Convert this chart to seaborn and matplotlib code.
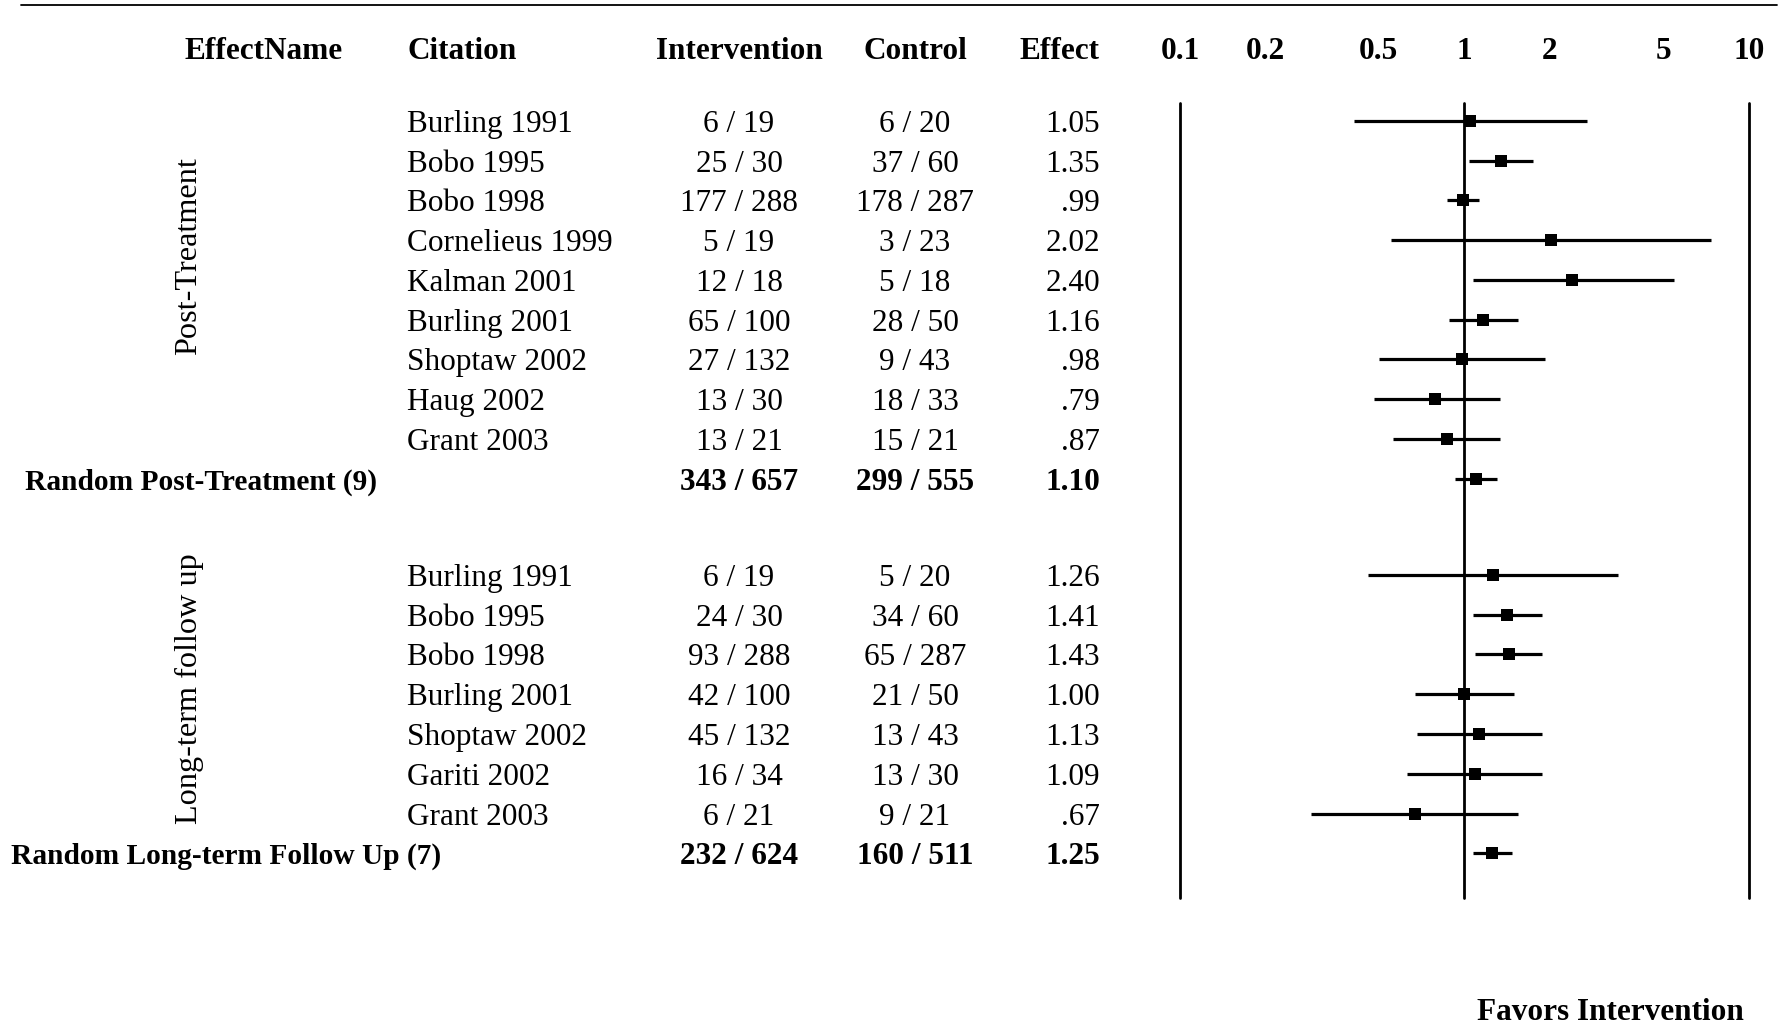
import numpy as np
import pandas as pd
import matplotlib
matplotlib.use("Agg")
import matplotlib.pyplot as plt
import matplotlib.transforms as mtransforms
from matplotlib.lines import Line2D
import seaborn as sns

# ---- Post-treatment studies ----
post_citations = ["Burling 1991", "Bobo 1995", "Bobo 1998", "Cornelieus 1999", "Kalman 2001",
                  "Burling 2001", "Shoptaw 2002", "Haug 2002", "Grant 2003"]
post_intervention = ["6 / 19", "25 / 30", "177 / 288", "5 / 19", "12 / 18",
                     "65 / 100", "27 / 132", "13 / 30", "13 / 21"]
post_control = ["6 / 20", "37 / 60", "178 / 287", "3 / 23", "5 / 18",
                "28 / 50", "9 / 43", "18 / 33", "15 / 21"]
post_effect = [1.05, 1.35, 0.99, 2.02, 2.40, 1.16, 0.98, 0.79, 0.87]
post_lower = [0.41, 1.04, 0.87, 0.55, 1.07, 0.88, 0.50, 0.48, 0.56]
post_upper = [2.71, 1.75, 1.13, 7.39, 5.44, 1.55, 1.92, 1.34, 1.34]

post_sum_label = "Random Post-Treatment (9)"
post_sum_intervention = "343 / 657"
post_sum_control = "299 / 555"
post_sum_effect = 1.10
post_sum_lower = 0.93
post_sum_upper = 1.30

# ---- Long-term follow up studies ----
long_citations = ["Burling 1991", "Bobo 1995", "Bobo 1998", "Burling 2001",
                  "Shoptaw 2002", "Gariti 2002", "Grant 2003"]
long_intervention = ["6 / 19", "24 / 30", "93 / 288", "42 / 100", "45 / 132", "16 / 34", "6 / 21"]
long_control = ["5 / 20", "34 / 60", "65 / 287", "21 / 50", "13 / 43", "13 / 30", "9 / 21"]
long_effect = [1.26, 1.41, 1.43, 1.00, 1.13, 1.09, 0.67]
long_lower = [0.46, 1.07, 1.09, 0.67, 0.68, 0.63, 0.29]
long_upper = [3.47, 1.88, 1.88, 1.49, 1.88, 1.88, 1.54]

long_sum_label = "Random Long-term Follow Up (7)"
long_sum_intervention = "232 / 624"
long_sum_control = "160 / 511"
long_sum_effect = 1.25
long_sum_lower = 1.07
long_sum_upper = 1.47

group_names = ["Post-Treatment", "Long-term follow up"]
header_names = ["EffectName", "Citation", "Intervention", "Control", "Effect"]
tick_values = [0.1, 0.2, 0.5, 1, 2, 5, 10]
tick_labels = ["0.1", "0.2", "0.5", "1", "2", "5", "10"]
footer_label = "Favors Intervention"


def fmt_effect(v):
    s = f"{v:.2f}"
    return s[1:] if s.startswith("0") else s


# ---- assemble one table, row positions in units of text lines ----
GROUP_GAP = 2.42
rows = []
y = 0.0
groups = [
    (post_citations, post_intervention, post_control, post_effect, post_lower, post_upper,
     post_sum_label, post_sum_intervention, post_sum_control, post_sum_effect,
     post_sum_lower, post_sum_upper),
    (long_citations, long_intervention, long_control, long_effect, long_lower, long_upper,
     long_sum_label, long_sum_intervention, long_sum_control, long_sum_effect,
     long_sum_lower, long_sum_upper),
]
group_ranges = []
for gi, (cit, itv, ctl, eff, lo, hi, sl, si, sc, se, slo, shi) in enumerate(groups):
    start = y
    for c, a, b, e, l, h in zip(cit, itv, ctl, eff, lo, hi):
        rows.append(dict(group=gi, citation=c, intervention=a, control=b,
                         effect=e, lower=l, upper=h, summary=False, y=y))
        y += 1
    group_ranges.append((start, y - 1))
    rows.append(dict(group=gi, citation=sl, intervention=si, control=sc,
                     effect=se, lower=slo, upper=shi, summary=True, y=y))
    y += GROUP_GAP
df = pd.DataFrame(rows)

# ---- figure ----
sns.set_theme(style="white")
plt.rcParams["font.family"] = ["Liberation Serif", "DejaVu Serif"]
plt.rcParams["text.color"] = "black"
FS = 22.5
FS_SUMMARY = 21.2
FS_GROUP = 23.2

W, H = 1792, 1033
fig = plt.figure(figsize=(W / 100, H / 100), dpi=100)
fig.patch.set_facecolor("white")

ax_left, ax_right = 1180 / W, 1748.7 / W
ax_top, ax_bottom = 1 - 103 / H, 1 - 898 / H
ax = fig.add_axes([ax_left, ax_bottom, ax_right - ax_left, ax_top - ax_bottom])

y_top = -0.45
y_bottom = df["y"].max() + 1.125

# reference lines at the plot bounds and at no effect
for v in (0.1, 1, 10):
    ax.axvline(v, color="black", lw=2.0, clip_on=False, zorder=1)

# confidence intervals and point estimates
ax.hlines(df["y"], df["lower"], df["upper"], color="black", lw=2.3, zorder=2)
sns.scatterplot(data=df, x="effect", y="y", marker="s", s=85, color="black",
                linewidth=0, ax=ax, zorder=3, legend=False)
ax.set_xscale("log")
ax.set_xlim(0.1, 10)
ax.set_ylim(y_bottom, y_top)
ax.axis("off")

# ---- table text ----
tr = mtransforms.blended_transform_factory(fig.transFigure, ax.transData)
VA = "center_baseline"
col_effectname = 264 / W
col_citation = 407 / W
col_intervention = 739 / W
col_control = 915 / W
col_effect = 1100 / W
header_y = -1.84

ax.text(col_effectname, header_y, header_names[0], transform=tr, ha="center", va=VA,
        fontsize=FS, fontweight="bold")
ax.text(col_citation, header_y, header_names[1], transform=tr, ha="left", va=VA,
        fontsize=FS, fontweight="bold")
ax.text(col_intervention, header_y, header_names[2], transform=tr, ha="center", va=VA,
        fontsize=FS, fontweight="bold")
ax.text(col_control, header_y, header_names[3], transform=tr, ha="center", va=VA,
        fontsize=FS, fontweight="bold")
ax.text(col_effect, header_y, header_names[4], transform=tr, ha="right", va=VA,
        fontsize=FS, fontweight="bold")
for v, lab in zip(tick_values, tick_labels):
    ax.text(v, header_y, lab, ha="center", va=VA, fontsize=FS, fontweight="bold",
            clip_on=False)

summary_x = [25 / W, 11 / W]
for _, r in df.iterrows():
    weight = "bold" if r["summary"] else "normal"
    if r["summary"]:
        ax.text(summary_x[r["group"]], r["y"], r["citation"], transform=tr, ha="left",
                va=VA, fontsize=FS_SUMMARY, fontweight="bold")
    else:
        ax.text(col_citation, r["y"], r["citation"], transform=tr, ha="left", va=VA,
                fontsize=FS)
    ax.text(col_intervention, r["y"], r["intervention"], transform=tr, ha="center",
            va=VA, fontsize=FS, fontweight=weight)
    ax.text(col_control, r["y"], r["control"], transform=tr, ha="center", va=VA,
            fontsize=FS, fontweight=weight)
    ax.text(col_effect, r["y"], fmt_effect(r["effect"]), transform=tr, ha="right",
            va=VA, fontsize=FS, fontweight=weight)

# rotated group names beside each block
group_label_shift = [-0.6, -0.14]
for (start, end), name, shift in zip(group_ranges, group_names, group_label_shift):
    ax.text(189 / W, (start + end) / 2 + shift, name, transform=tr, rotation=90,
            ha="center", va="center", fontsize=FS_GROUP)

# footer under the right half of the scale
ax.text(1610 / W, 1 - 1009 / H, footer_label, transform=fig.transFigure, ha="center",
        va=VA, fontsize=FS, fontweight="bold")

# rule across the top of the table
fig.add_artist(Line2D([21 / W, 1777 / W], [1 - 5 / H, 1 - 5 / H], transform=fig.transFigure,
                      color="black", lw=1.3))

fig.savefig("out.png", dpi=100, facecolor="white")
